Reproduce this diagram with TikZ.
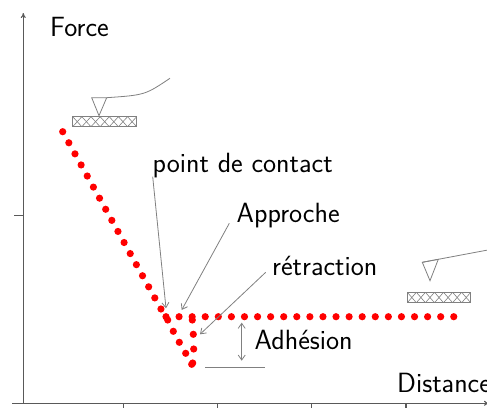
\documentclass[tikz,border=0pt]{standalone}
\usetikzlibrary{arrows.meta,calc}
\begin{document}
\begin{tikzpicture}[x=1pt,y=-1pt,
  lbl/.style={inner sep=0pt,font=\fontsize{27.8}{32}\sffamily},
  axisline/.style={draw=black!65,line width=1.1pt},
  ptr/.style={draw=gray,line width=0.8pt,-{Straight Barb[length=5pt,width=7pt]}},
  dimarr/.style={draw=gray,line width=0.8pt,{Straight Barb[length=5pt,width=7pt]}-{Straight Barb[length=5pt,width=7pt]}},
  tipline/.style={draw=gray,line width=0.8pt},
  dotmark/.style={fill=red,draw=none}]
\useasboundingbox (0,0) rectangle (487,407);
% axes
\coordinate (O) at (23.3,403.3);
\coordinate (Ytop) at (23.3,13);
\coordinate (Xl) at (12,403.3);
\coordinate (Xr) at (489,403.3);
\draw[axisline,-{To[length=5pt,width=5pt]}] (O) -- (Ytop);
\draw[axisline,-{To[length=5pt,width=5pt]}] (Xl) -- (Xr);
\draw[axisline] (14,215.7) -- (23.3,215.7);
\foreach \tx in {123.3,217.7,311.7,406}{\draw[axisline] (\tx,403.3) -- (\tx,408);}
\node[lbl,anchor=base west] (force) at (50,36) {Force};
\node[lbl,anchor=base west] (dist) at (397,392) {Distance};
% dots: approach segment
\foreach \i in {0,...,16}{\fill[dotmark] (62.7+6.14*\i,131.7+11.08*\i) circle (3.6);}
% horizontal segment
\foreach \k in {0,...,22}{\fill[dotmark] (166+13.08*\k,316.7) circle (3.6);}
% retraction extra
\foreach \p in {(167.7,320),(173.3,331.3),(179.3,342.3),(185.7,353.3),(191.7,364.3),(192.7,363),(193.7,349),(193.3,334.3),(192.3,320)}{\fill[dotmark] \p circle (3.6);}
% cantilever 1
\coordinate (c1a) at (91.7,97.7);
\coordinate (c1b) at (106.7,97.7);
\coordinate (c1c) at (99,115.7);
\coordinate (c1e) at (170,78.3);
\draw[tipline] (c1a) -- (c1c) -- (c1b) -- cycle;
\draw[tipline] (c1b) .. controls (145,95) .. (c1e);
\draw[tipline] (72.7,116.7) rectangle (136.7,126.7);
\foreach \j in {0,...,6}{
  \draw[gray,line width=0.6pt] (72.7+9.14*\j,116.7) -- (72.7+9.14*\j+9.14,126.7);
  \draw[gray,line width=0.6pt] (72.7+9.14*\j+9.14,116.7) -- (72.7+9.14*\j,126.7);}
% cantilever 2
\coordinate (c2a) at (422.3,262.3);
\coordinate (c2b) at (438.3,259.3);
\coordinate (c2c) at (430,280.7);
\coordinate (c2e) at (490,249.6);
\draw[tipline] (c2a) -- (c2c) -- (c2b) -- cycle;
\draw[tipline] (c2a) -- (c2e);
\draw[tipline] (407.3,292.3) rectangle (470.7,302.7);
\foreach \j in {0,...,6}{
  \draw[gray,line width=0.6pt] (407.3+9.06*\j,292.3) -- (407.3+9.06*\j+9.06,302.7);
  \draw[gray,line width=0.6pt] (407.3+9.06*\j+9.06,292.3) -- (407.3+9.06*\j,302.7);}
% labels
\node[lbl,anchor=base west] (pc) at (152.5,172) {point de contact};
\node[lbl,anchor=base west] (ap) at (236.5,222) {Approche};
\node[lbl,anchor=base west] (rt) at (272,275) {rétraction};
\node[lbl,anchor=base west] (ad) at (254.5,349) {Adhésion};
\coordinate (pcT) at (166,308.3);
\coordinate (apT) at (181.7,310);
\coordinate (rtT) at (200,334.3);
\draw[ptr] ($(pc.base west)+(0.2,4.7)$) -- (pcT);
\draw[ptr] ($(ap.base west)+(-7.2,1.3)$) -- (apT);
\draw[ptr] ($(rt.base west)+(-6.3,-2.7)$) -- (rtT);
% adhesion
\coordinate (adT) at (241.7,322.7);
\coordinate (adB) at (241.7,360.7);
\draw[dimarr] (adT) -- (adB);
\coordinate (lnA) at (205,367.3);
\coordinate (lnB) at (265,367.3);
\draw[tipline] (lnA) -- (lnB);
\end{tikzpicture}
\end{document}
